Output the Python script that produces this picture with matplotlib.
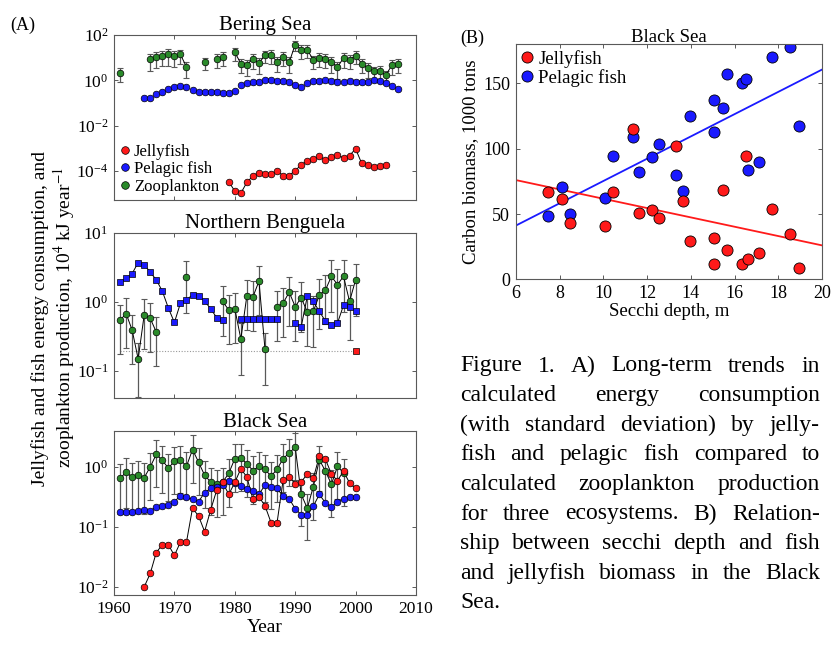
import numpy as np
import matplotlib
matplotlib.use('Agg')
import matplotlib.pyplot as plt
from matplotlib.lines import Line2D

plt.rcParams['font.family'] = ['Liberation Serif', 'DejaVu Serif']
plt.rcParams['mathtext.fontset'] = 'stix'

W, H = 836, 646

# ---------------- (A) data, log10 of 10^4 kJ/year ----------------
# Bering Sea
bs_zoo_years = [1961, 1966, 1967, 1968, 1969, 1970, 1971, 1972, 1975, 1977, 1978,
                1980, 1981, 1982, 1983, 1984, 1985, 1986, 1987, 1988, 1989, 1990,
                1991, 1992, 1993, 1994, 1995, 1996, 1997, 1998, 1999, 2000, 2001,
                2002, 2003, 2004, 2005, 2006, 2007]
bs_zoo_log = [0.33, 0.95, 1.03, 1.09, 1.17, 1.09, 1.14, 0.59, 0.80, 0.96, 1.03,
              1.24, 0.74, 0.68, 0.96, 0.75, 1.12, 1.12, 0.82, 1.03, 0.79, 1.58,
              1.36, 1.36, 0.89, 0.99, 0.95, 0.80, 0.58, 0.99, 0.91, 1.09, 0.74,
              0.55, 0.40, 0.42, 0.22, 0.67, 0.73]
bs_zoo_sd = [0.62, 0.7, 0.68, 0.66, 0.7, 0.68, 0.62, 0.66, 0.55, 0.6, 0.58,
             0.6, 0.62, 0.66, 0.64, 0.66, 0.55, 0.6, 0.64, 0.6, 0.66, 0.5,
             0.62, 0.58, 0.6, 0.6, 0.62, 0.66, 0.7, 0.64, 0.6, 0.58, 0.6,
             0.66, 0.62, 0.68, 0.6, 0.62, 0.6]
bs_fish_years = list(range(1965, 2008))
bs_fish_log = [-0.77, -0.80, -0.59, -0.53, -0.38, -0.29, -0.27, -0.28, -0.41, -0.53,
               -0.53, -0.53, -0.53, -0.54, -0.56, -0.47, -0.19, -0.12, -0.07, -0.07,
               0.0, 0.0, -0.01, -0.01, -0.07, -0.19, -0.29, -0.10, -0.02, -0.02,
               0.03, -0.04, -0.08, -0.07, -0.04, -0.07, -0.08, -0.07, 0.01, -0.01,
               -0.10, -0.24, -0.37]
bs_jelly_years = list(range(1979, 2006))
bs_jelly_log = [-4.47, -4.89, -4.98, -4.50, -4.22, -4.07, -4.13, -4.13, -4.01, -4.20,
                -4.20, -3.98, -3.73, -3.55, -3.45, -3.36, -3.50, -3.39, -3.30, -3.42,
                -3.32, -3.02, -3.66, -3.74, -3.83, -3.76, -3.74]

# Northern Benguela
nb_fish_years = [1961, 1962, 1963, 1964, 1965, 1966, 1967, 1968, 1969, 1970, 1971,
                 1972, 1973, 1974, 1975, 1976, 1977, 1978, 1981, 1982, 1983, 1984,
                 1985, 1986, 1987, 1990, 1991, 1992, 1993, 1994, 1995, 1996, 1997,
                 1998, 1999, 2000]
nb_fish_log = [0.29, 0.34, 0.41, 0.57, 0.54, 0.43, 0.32, 0.155, -0.09, -0.30, -0.02,
               0.03, 0.10, 0.09, 0.01, -0.10, -0.23, -0.26, -0.255, -0.255, -0.255, -0.255,
               -0.255, -0.255, -0.255, -0.31, -0.36, 0.08, 0.005, -0.14, -0.28, -0.33, -0.31,
               -0.05, -0.07, -0.14]
nb_zoo_years = [1961, 1962, 1963, 1964, 1965, 1966, 1967, 1972, 1978, 1979, 1980,
                1981, 1982, 1983, 1984, 1985, 1987, 1988, 1989, 1990, 1991, 1992,
                1993, 1994, 1995, 1996, 1997, 1998, 1999, 2000]
nb_zoo_log = [-0.27, -0.17, -0.41, -0.83, -0.19, -0.24, -0.44, 0.36, 0.005, -0.12, -0.10,
              -0.54, 0.09, 0.07, 0.30, -0.69, -0.07, -0.02, 0.14, -0.07, 0.06, -0.15,
              -0.14, 0.10, 0.17, 0.37, 0.25, 0.37, 0.005, 0.32]
nb_zoo_sd = [0.68, 0.68, 0.68, 0.72, 0.68, 0.68, 0.68, 0.7, 0.68, 0.68, 0.68,
             0.7, 0.68, 0.68, 0.68, 0.7, 0.68, 0.68, 0.68, 0.68, 0.68, 0.68,
             0.7, 0.68, 0.68, 0.7, 0.7, 0.7, 0.72, 0.7]
nb_jelly_years = [1961, 2000]
nb_jelly_log = [-0.714, -0.714]

# Black Sea
bk_zoo_years = list(range(1961, 1999))
bk_zoo_log = [-0.19, -0.09, -0.17, -0.14, -0.18, 0.0, 0.21, 0.11, -0.02, 0.095,
              0.12, 0.01, 0.29, 0.08, -0.14, -0.25, -0.29, -0.25, -0.11, 0.14,
              0.15, 0.05, -0.06, 0.01, -0.04, -0.155, -0.04, 0.14, 0.23, 0.33,
              -0.46, -0.69, -0.33, 0.12, -0.07, -0.29, 0.01, -0.10]
bk_zoo_sd = [0.75, 0.75, 0.75, 0.75, 0.75, 0.72, 0.72, 0.72, 0.72, 0.72,
             0.72, 0.72, 0.72, 0.72, 0.72, 0.72, 0.72, 0.72, 0.72, 0.72,
             0.72, 0.72, 0.72, 0.72, 0.72, 0.72, 0.72, 0.72, 0.72, 0.72,
             0.7, 0.7, 0.72, 0.7, 0.72, 0.72, 0.72, 0.72]
bk_fish_years = list(range(1961, 2001))
bk_fish_log = [-0.76, -0.76, -0.76, -0.73, -0.72, -0.73, -0.67, -0.65, -0.63, -0.58,
               -0.48, -0.51, -0.54, -0.58, -0.43, -0.36, -0.33, -0.305, -0.24, -0.27,
               -0.32, -0.37, -0.405, -0.455, -0.305, -0.33, -0.36, -0.49, -0.53, -0.70,
               -0.80, -0.81, -0.655, -0.46, -0.60, -0.67, -0.58, -0.53, -0.51, -0.51]
bk_jelly_years = list(range(1965, 2001))
bk_jelly_log = [-2.005, -1.78, -1.43, -1.30, -1.30, -1.48, -1.255, -1.255, -0.69, -0.82,
                -1.08, -0.72, -0.39, -0.26, -0.46, -0.26, -0.03, -0.17, -0.54, -0.50,
                -0.65, -0.93, -0.93, -0.22, -0.17, -0.28, -0.25, -0.12, -0.19, 0.18,
                0.13, -0.12, -0.23, -0.07, -0.27, -0.36]

# ---------------- (B) data ----------------
secchi = [7.46, 8.13, 8.50, 10.09, 10.46, 11.36, 11.63, 12.24, 12.53, 13.34, 13.64,
          13.96, 15.04, 15.04, 15.48, 15.65, 16.33, 16.53, 16.59, 17.11, 17.72, 18.51, 18.92]
jelly_biomass = [67.1, 61.3, 42.9, 40.8, 66.6, 115.1, 51.1, 53.4, 46.7, 102.4, 60.2,
                 29.6, 31.9, 12.0, 68.7, 22.5, 12.0, 94.2, 15.3, 20.2, 53.9, 34.5, 8.4]
fish_biomass = [48.8, 71.0, 49.8, 62.6, 94.7, 109.3, 82.5, 93.4, 103.7, 79.9, 67.4,
                124.8, 112.8, 137.6, 131.0, 157.3, 150.1, 153.2, 84.0, 89.6, 170.0, 177.7, 117.4]

caption = ["Figure 1. A) Long-term trends in",
           "calculated energy consumption",
           "(with standard deviation) by jelly-",
           "fish and pelagic fish compared to",
           "calculated zooplankton production",
           "for three ecosystems. B) Relation-",
           "ship between secchi depth and fish",
           "and jellyfish biomass in the Black",
           "Sea."]

RED, BLUE, GREEN = '#ff1a1a', '#1a1aff', '#2a8a2a'
SPINE = '0.35'


def gapped(years, logs):
    yrs = np.asarray(years, float)
    v = 10.0 ** np.asarray(logs, float)
    xs, ys = [yrs[0]], [v[0]]
    for i in range(1, len(yrs)):
        if yrs[i] - yrs[i - 1] > 1:
            xs.append(np.nan)
            ys.append(np.nan)
        xs.append(yrs[i])
        ys.append(v[i])
    return yrs, v, np.array(xs), np.array(ys)


def series(ax, years, logs, color, marker='o', sd=None, line=True):
    yrs, v, xs, ys = gapped(years, logs)
    if line:
        ax.plot(xs, ys, color='k', lw=0.7, zorder=2)
    if sd is not None:
        e = v * np.asarray(sd)
        ax.errorbar(yrs, v, yerr=[e, e], fmt='none', ecolor='0.35', elinewidth=0.9,
                    capsize=2.2, capthick=0.8, zorder=1)
    ax.plot(yrs, v, linestyle='none', marker=marker, ms=4.8, mfc=color, mec='k',
            mew=0.5, zorder=3)


def style(ax, yticks, ylim, labels):
    ax.set_yscale('log')
    ax.set_xlim(1960, 2010)
    ax.set_ylim(*ylim)
    ax.set_xticks(range(1960, 2011, 10))
    ax.set_yticks(yticks)
    ax.minorticks_off()
    ax.tick_params(direction='in', top=True, right=True, length=3, width=0.7,
                   color=SPINE, labelsize=12.5, pad=4)
    if not labels:
        ax.set_xticklabels([])
    for s in ax.spines.values():
        s.set_color(SPINE)
        s.set_linewidth(0.8)


fig = plt.figure(figsize=(W / 100, H / 100), dpi=100)


def axes_px(l, t, r, b):
    return fig.add_axes([l / W, 1 - b / H, (r - l) / W, (b - t) / H])


# Bering Sea
ax1 = axes_px(114, 35, 416, 200)
series(ax1, bs_zoo_years, bs_zoo_log, GREEN, sd=bs_zoo_sd)
series(ax1, bs_fish_years, bs_fish_log, BLUE, line=False)
series(ax1, bs_jelly_years, bs_jelly_log, RED)
style(ax1, [1e-4, 1e-2, 1, 1e2], (10 ** -5.28, 100), False)
ax1.set_title('Bering Sea', fontsize=15, pad=3)
hnd = [Line2D([], [], ls='none', marker='o', ms=5.5, mfc=c, mec='k', mew=0.5)
       for c in (RED, BLUE, GREEN)]
ax1.legend(hnd, ['Jellyfish', 'Pelagic fish', 'Zooplankton'], loc='lower left',
           frameon=False, fontsize=12, handlelength=0.7, handletextpad=0.2,
           labelspacing=0.1, borderaxespad=0.1, borderpad=0.2)

# Northern Benguela
ax2 = axes_px(114, 233, 416, 398)
yrs, v, xs, ys = gapped(nb_jelly_years, nb_jelly_log)
ax2.plot(yrs, v, ls=(0, (1, 1.5)), color='0.6', lw=0.8, zorder=1)
series(ax2, nb_zoo_years, nb_zoo_log, GREEN, sd=nb_zoo_sd)
series(ax2, nb_fish_years, nb_fish_log, BLUE, marker='s')
ax2.plot(yrs[-1:], v[-1:], ls='none', marker='s', ms=4.8, mfc=RED, mec='k', mew=0.5, zorder=3)
style(ax2, [0.1, 1, 10], (0.04, 10), False)
ax2.set_title('Northern Benguela', fontsize=15, pad=3)

# Black Sea
ax3 = axes_px(114, 431, 416, 595)
series(ax3, bk_zoo_years, bk_zoo_log, GREEN, sd=bk_zoo_sd)
series(ax3, bk_fish_years, bk_fish_log, BLUE)
series(ax3, bk_jelly_years, bk_jelly_log, RED)
style(ax3, [0.01, 0.1, 1], (10 ** -2.14, 10 ** 0.6), True)
ax3.set_title('Black Sea', fontsize=15, pad=3)
ax3.set_xlabel('Year', fontsize=14, labelpad=2)

fig.text(54 / W, 1 - 318 / H,
         'Jellyfish and fish energy consumption, and\n'
         'zooplankton production, 10$^4$ kJ year$^{-1}$',
         rotation=90, ha='center', va='center', fontsize=14, linespacing=1.15)
fig.text(10 / W, 1 - 25 / H, '(A)', fontsize=13, va='center')

# (B) Black Sea biomass vs Secchi depth, with least-squares lines
axb = axes_px(515.7, 44.3, 822.3, 279.3)
sx = np.asarray(secchi)
xf = np.array([6.0, 20.0])
pf = np.polyfit(sx, fish_biomass, 1)
pj = np.polyfit(sx, jelly_biomass, 1)
axb.plot(xf, np.polyval(pf, xf), color='#1a1aff', lw=1.3, zorder=1)
axb.plot(xf, np.polyval(pj, xf), color='#ff1a1a', lw=1.3, zorder=1)

axb.plot(sx, fish_biomass, ls='none', marker='o', ms=8, mfc=BLUE, mec='k', mew=0.6,
         zorder=2)
axb.plot(sx, jelly_biomass, ls='none', marker='o', ms=8, mfc=RED, mec='k', mew=0.6,
         zorder=3)
axb.set_xlim(6, 20)
axb.set_ylim(0, 180)
axb.set_xticks(range(6, 21, 2))
axb.set_yticks([0, 50, 100, 150])
axb.tick_params(direction='in', top=True, right=True, length=3, width=0.7,
                color=SPINE, labelsize=13, pad=4)
for s in axb.spines.values():
    s.set_color(SPINE)
    s.set_linewidth(0.8)
axb.set_title('Black Sea', fontsize=13.5, pad=2)
axb.set_xlabel('Secchi depth, m', fontsize=13.5, labelpad=1)
axb.set_ylabel('Carbon biomass, 1000 tons', fontsize=13.5, labelpad=3)
hb = [Line2D([], [], ls='none', marker='o', ms=8, mfc=c, mec='k', mew=0.6) for c in (RED, BLUE)]
axb.legend(hb, ['Jellyfish', 'Pelagic fish'], loc='upper left', frameon=False, fontsize=13.5,
           handlelength=0.6, handletextpad=0.3, labelspacing=0.05, borderaxespad=0.1,
           borderpad=0.2)
fig.text(460 / W, 1 - 38 / H, '(B)', fontsize=13, va='center')

# justified caption
r = fig.canvas.get_renderer()
x0, x1, y0, dy = 460, 820, 366, 29.6
for i, line in enumerate(caption):
    y = 1 - (y0 + i * dy) / H
    words = line.split()
    txts = [fig.text(0, y, w, va='center', ha='left', fontsize=17) for w in words]
    widths = [t.get_window_extent(r).width for t in txts]
    if i == len(caption) - 1 or len(words) == 1:
        gap = 5
    else:
        gap = (x1 - x0 - sum(widths)) / (len(words) - 1)
    x = x0
    for t, w in zip(txts, widths):
        t.set_x(x / W)
        x += w + gap

fig.savefig('out.png', dpi=100)
